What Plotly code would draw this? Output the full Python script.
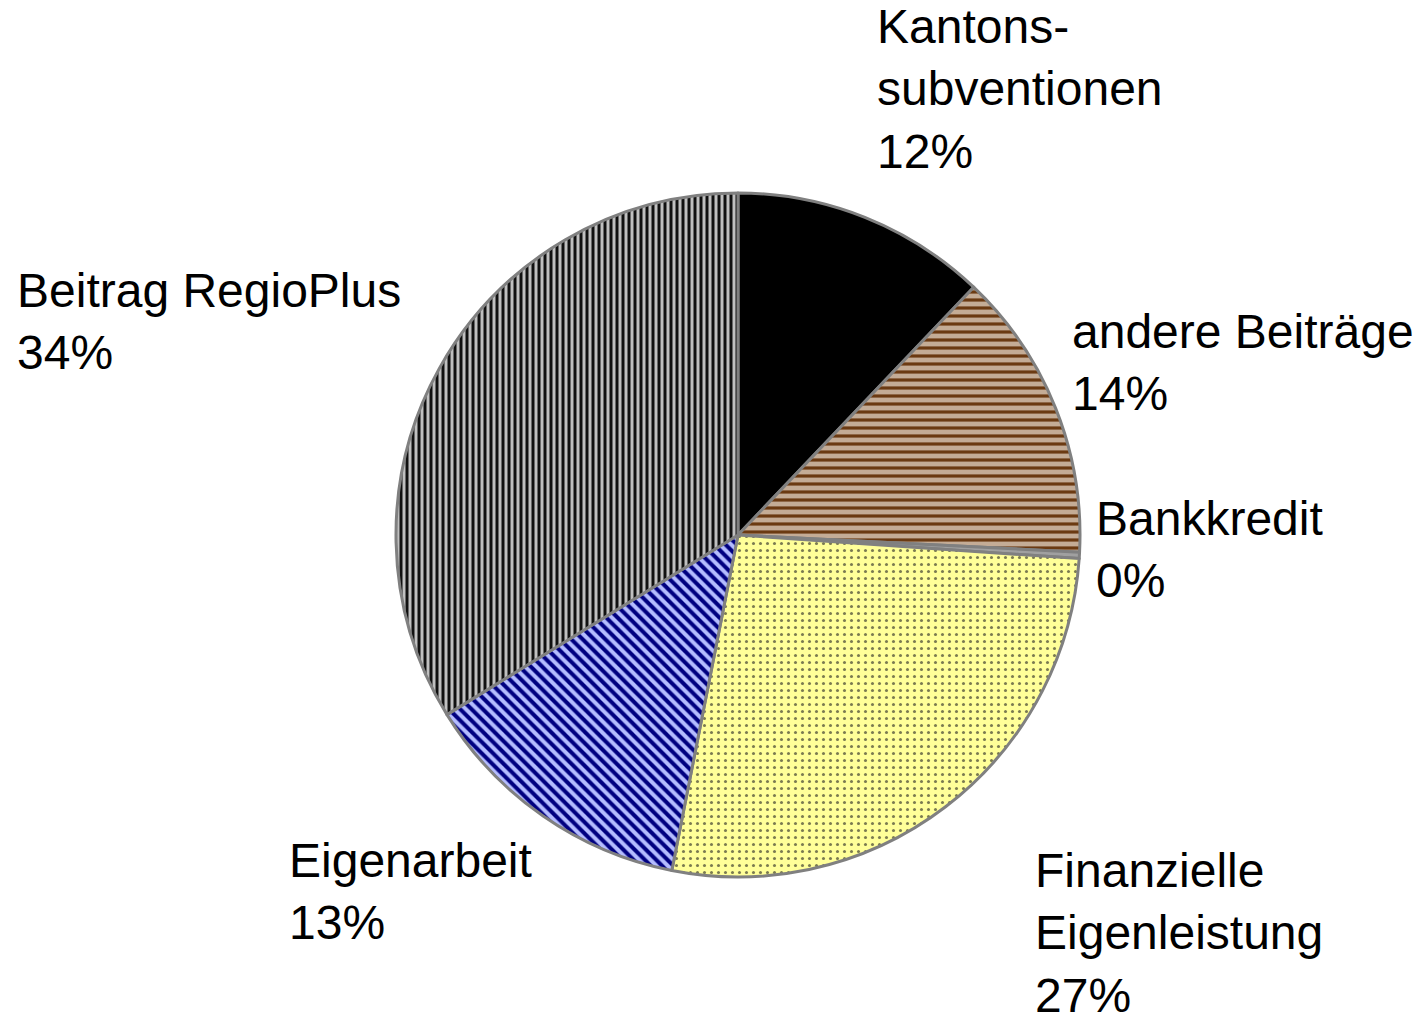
import plotly.graph_objects as go

# Data
categories = ["Kantonssubventionen", "andere Beiträge", "Bankkredit",
              "Finanzielle Eigenleistung", "Eigenarbeit", "Beitrag RegioPlus"]
display_labels = ["Kantons-<br>subventionen", "andere Beiträge", "Bankkredit",
                  "Finanzielle<br>Eigenleistung", "Eigenarbeit", "Beitrag RegioPlus"]
values = [12.1, 13.7, 0.3, 27.0, 13.1, 33.8]

# Styles
base_colors = ["#000000", "#b09478", "#a0a0a0", "#ffff99", "#b4bcff", "#c4c4c4"]
pat_shapes = ["", "-", "", ".", "\\", "|"]
pat_fg = ["#000000", "#6b3a12", "#a0a0a0", "#7a7a50", "#000080", "#111111"]
pat_bg = ["#000000", "#c4ac96", "#a0a0a0", "#ffff99", "#b4bcff", "#c0c0c0"]
pat_size = [8, 8, 8, 7, 8, 6]
pat_solid = [0.3, 0.4, 0.3, 0.15, 0.5, 0.5]

# label anchor positions (page pixels, left/top)
label_x = [878, 1073, 1097, 1036, 290, 18]
label_top = [2, 307, 494, 846, 836, 266]

W, H = 1428, 1016
OFF = 8  # page body margin
cx, cy, r = 738 - OFF, 535 - OFF, 342

fig = go.Figure(go.Pie(
    labels=categories,
    values=values,
    sort=False,
    direction="clockwise",
    rotation=0,
    textinfo="none",
    hoverinfo="label+percent",
    marker=dict(
        colors=base_colors,
        line=dict(color="#808080", width=3),
        pattern=dict(shape=pat_shapes, fgcolor=pat_fg, bgcolor=pat_bg,
                     size=pat_size, solidity=pat_solid, fillmode="replace"),
    ),
    domain=dict(x=[(cx - r) / W, (cx + r) / W],
                y=[(H - cy - r) / H, (H - cy + r) / H]),
    showlegend=False,
))

total = sum(values)
for lab, v, lx, ly in zip(display_labels, values, label_x, label_top):
    pct = round(v / total * 100)
    fig.add_annotation(
        text=f"{lab}<br>{pct}%",
        x=(lx - 11) / W, y=1 - (ly - 12) / H, xref="paper", yref="paper",
        xanchor="left", yanchor="top", align="left", showarrow=False,
        font=dict(family="Liberation Sans, Arial, sans-serif", size=48, color="#000000"),
    )

fig.update_layout(
    width=W, height=H,
    margin=dict(l=0, r=0, t=0, b=0),
    paper_bgcolor="#ffffff",
    plot_bgcolor="#ffffff",
)

fig.write_html("out.html")
